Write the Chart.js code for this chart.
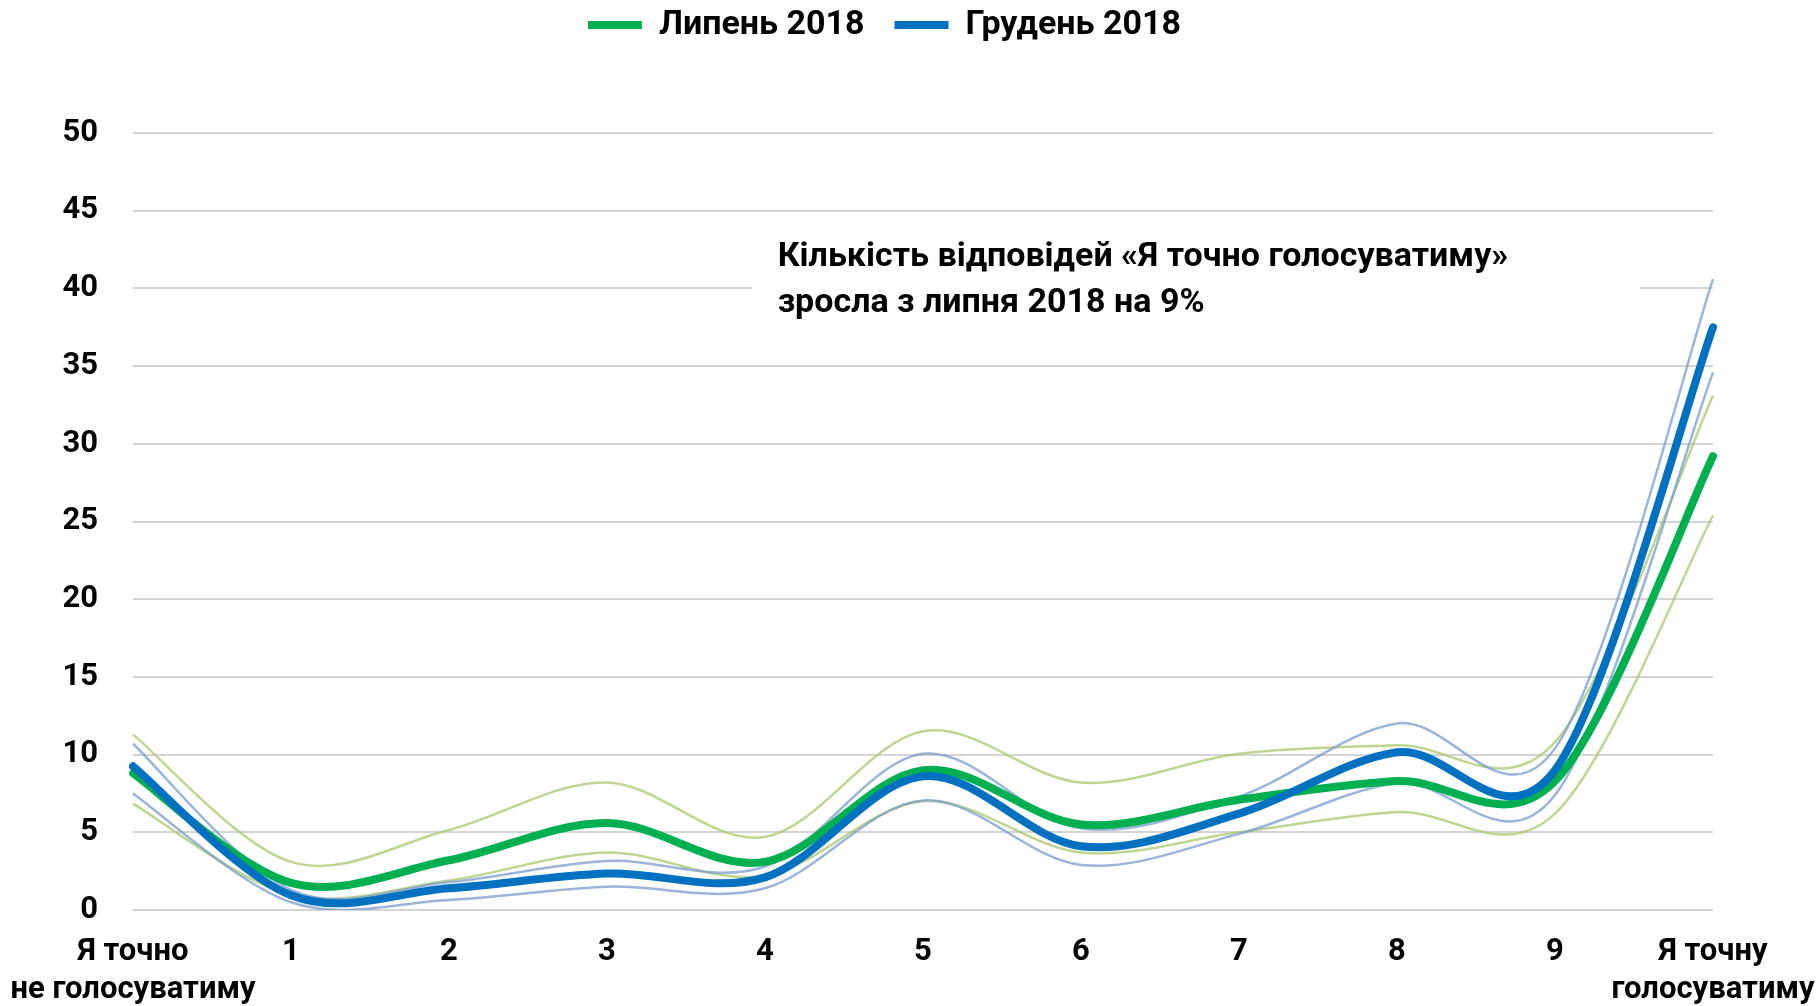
<!DOCTYPE html>
<html>
<head>
<meta charset="utf-8">
<title>Голосування</title>
<script src="https://cdn.jsdelivr.net/npm/chart.js@4.4.0/dist/chart.umd.min.js"></script>
<style>
    html, body { margin: 0; padding: 0; background: #fff; }
    #wrap { width: 1817px; height: 1006px; }
</style>
</head>
<body>
<div id="wrap"><canvas id="vote-chart" width="1817" height="1006"></canvas></div>
<script>
// шкала від "точно не голосуватиму" до "точно голосуватиму"
const categories = [
    ['Я точно', 'не голосуватиму'], '1', '2', '3', '4', '5', '6', '7', '8', '9', ['Я точну', 'голосуватиму']
];

const julyMain  = [8.8, 1.75, 3.2, 5.6, 3.1, 9.0, 5.5, 7.1, 8.3, 8.3, 29.2];
const julyUpper = [11.3, 3.1, 5.15, 8.2, 4.7, 11.5, 8.2, 10.05, 10.6, 10.8, 33.1];
const julyLower = [6.85, 1.0, 1.9, 3.7, 2.2, 7.0, 3.7, 5.0, 6.3, 6.2, 25.4];

const decMain  = [9.25, 0.95, 1.4, 2.35, 2.1, 8.6, 4.1, 6.2, 10.15, 9.0, 37.5];
const decUpper = [10.7, 1.3, 1.8, 3.15, 2.8, 10.05, 5.25, 7.3, 12.0, 10.4, 40.6];
const decLower = [7.5, 0.5, 0.65, 1.5, 1.4, 7.05, 2.9, 4.9, 8.15, 7.4, 34.6];

const yMin = 0, yMax = 50, yStep = 5;

const noteLines = [
    'Кількість відповідей «Я точно голосуватиму»',
    'зросла з липня 2018 на 9%'
];

const GREEN = '#00B050';
const BLUE = '#0070C0';
const GREEN_LIGHT = 'rgba(170, 200, 110, 0.75)';
const BLUE_LIGHT = 'rgba(120, 156, 204, 0.75)';

Chart.defaults.font.family = 'Roboto';
Chart.defaults.font.size = 31;
Chart.defaults.font.weight = 'bold';
Chart.defaults.color = '#000';

// Excel-style smoothing: control points at 1/6 of the neighbour chord
const excelSmooth = {
    id: 'excelSmooth',
    beforeDatasetsDraw(chart) {
        chart.getSortedVisibleDatasetMetas().forEach(meta => {
            const line = meta.dataset;
            const pts = meta.data;
            line.updateControlPoints(chart.chartArea, 'x');
            pts.forEach((p, i) => {
                const prev = pts[Math.max(i - 1, 0)];
                const next = pts[Math.min(i + 1, pts.length - 1)];
                const dx = (next.x - prev.x) / 6;
                const dy = (next.y - prev.y) / 6;
                p.cp1x = p.x - dx; p.cp1y = p.y - dy;
                p.cp2x = p.x + dx; p.cp2y = p.y + dy;
            });
        });
    }
};

// white box with the note text, drawn over the grid but under the lines
const notePlugin = {
    id: 'note',
    beforeDatasetsDraw(chart) {
        const { ctx, scales: { x, y } } = chart;
        const left = x.getPixelForValue(3.92);
        const right = x.getPixelForValue(9.54);
        const top = y.getPixelForValue(43.6);
        const bottom = y.getPixelForValue(36.9);
        ctx.save();
        ctx.fillStyle = '#fff';
        ctx.fillRect(left, top, right - left, bottom - top);
        ctx.fillStyle = '#000';
        ctx.font = 'bold 34px Roboto';
        ctx.textBaseline = 'middle';
        ctx.fillText(noteLines[0], x.getPixelForValue(4.08), y.getPixelForValue(42.0));
        ctx.fillText(noteLines[1], x.getPixelForValue(4.08), y.getPixelForValue(39.0));
        ctx.restore();
    }
};

// leave room between legend and plot, and nudge the legend right
const legendSpacer = {
    id: 'legendSpacer',
    beforeLayout(chart) {
        const legend = chart.legend;
        if (legend && !legend._spaced) {
            const fit = legend.fit;
            legend.fit = function() {
                fit.call(this);
                this.height = 155;
            };
            legend._spaced = true;
        }
    },
    afterLayout(chart) {
        const legend = chart.legend;
        if (legend) {
            legend.left += 28;
            legend.right += 28;
        }
    }
};

function mainLine(label, data, color) {
    return {
        label: label,
        data: data,
        borderColor: color,
        backgroundColor: color,
        borderWidth: 8,
        borderCapStyle: 'round',
        pointRadius: 0,
        tension: 0.4,
        fill: false
    };
}

function bandLine(label, data, color) {
    return {
        label: label,
        data: data,
        borderColor: color,
        borderWidth: 2.5,
        pointRadius: 0,
        tension: 0.4,
        fill: false
    };
}

const ctx = document.getElementById('vote-chart').getContext('2d');
new Chart(ctx, {
    type: 'line',
    data: {
        labels: categories,
        datasets: [
            mainLine('Грудень 2018', decMain, BLUE),
            mainLine('Липень 2018', julyMain, GREEN),
            bandLine('Грудень верх', decUpper, BLUE_LIGHT),
            bandLine('Грудень низ', decLower, BLUE_LIGHT),
            bandLine('Липень верх', julyUpper, GREEN_LIGHT),
            bandLine('Липень низ', julyLower, GREEN_LIGHT)
        ]
    },
    options: {
        responsive: false,
        animation: false,
        devicePixelRatio: 1,
        layout: {
            padding: { top: -22, right: 104, bottom: 0, left: 0 }
        },
        plugins: {
            legend: {
                position: 'top',
                labels: {
                    usePointStyle: true,
                    pointStyle: 'line',
                    pointStyleWidth: 54,
                    padding: 30,
                    font: { size: 34, weight: 'bold' },
                    filter: item => item.datasetIndex < 2,
                    sort: (a, b) => b.datasetIndex - a.datasetIndex
                }
            },
            tooltip: { enabled: false }
        },
        scales: {
            x: {
                offset: false,
                grid: { display: false, drawTicks: false },
                border: { display: false },
                ticks: {
                    padding: 24,
                    maxRotation: 0,
                    autoSkip: false,
                    font: { size: 31, weight: 'bold' }
                },
                afterFit: scale => {
                    scale.paddingLeft = 0;
                    scale.paddingRight = 0;
                    scale.height = 96;
                }
            },
            y: {
                min: yMin,
                max: yMax,
                grid: { color: '#d4d4d4', lineWidth: 2, drawTicks: false },
                border: { display: false },
                ticks: {
                    stepSize: yStep,
                    padding: 35,
                    font: { size: 31, weight: 'bold' }
                },
                afterFit: scale => {
                    scale.width = 133;
                }
            }
        }
    },
    plugins: [legendSpacer, notePlugin, excelSmooth]
});
</script>
</body>
</html>
